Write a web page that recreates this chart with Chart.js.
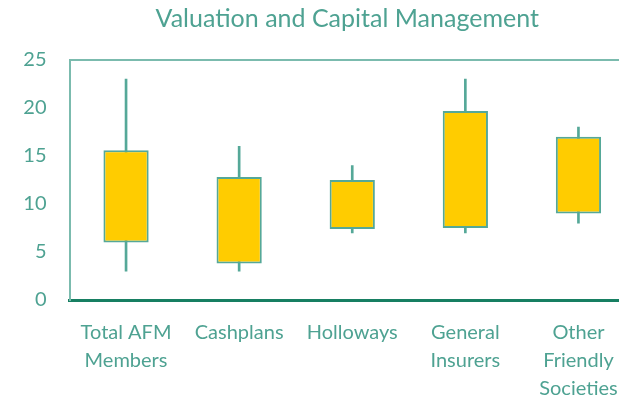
<!DOCTYPE html>
<html>
<head>
<meta charset="utf-8">
<script src="https://cdn.jsdelivr.net/npm/chart.js@4.4.0/dist/chart.umd.min.js"></script>
<style>
  html, body { margin: 0; padding: 0; background: #fff; overflow: hidden; }
  #wrap { width: 660px; height: 400px; position: relative; }
</style>
</head>
<body>
<div id="wrap"><canvas id="c" width="660" height="400"></canvas></div>
<script>
const categories = [["Total AFM", "Members"], "Cashplans", "Holloways", ["General", "Insurers"], ["Other", "Friendly", "Societies"]];
const lowValues   = [3, 3, 7, 7, 8];
const boxBottom   = [6, 3.8, 7.4, 7.5, 9];
const boxTop      = [15.6, 12.8, 12.5, 19.7, 17];
const highValues  = [23, 16, 14, 23, 18];
const yTicks = [0, 5, 10, 15, 20, 25];
const titleText = 'Valuation and Capital Management';

const TEAL = '#55A898';
const TEXT = '#4EA292';

const frame = {
  id: 'frame',
  afterDraw(chart) {
    const a = chart.chartArea, ctx = chart.ctx;
    ctx.save();
    ctx.strokeStyle = '#7BBBAE';
    ctx.lineWidth = 2;
    ctx.beginPath();
    ctx.moveTo(a.left, a.top);
    ctx.lineTo(a.right, a.top);
    ctx.stroke();
    // title
    ctx.fillStyle = TEXT;
    ctx.font = '25px Lato';
    ctx.textAlign = 'center';
    ctx.textBaseline = 'middle';
    ctx.fillText(titleText, (a.left + a.right) / 2 - 5, 19);
    ctx.restore();
  }
};

new Chart(document.getElementById('c'), {
  type: 'bar',
  data: {
    labels: categories,
    datasets: [
      {
        label: 'Box',
        data: boxBottom.map((b, i) => [b, boxTop[i]]),
        backgroundColor: '#FFCC00',
        borderColor: TEAL,
        borderWidth: 2,
        borderSkipped: false,
        barPercentage: 0.4,
        categoryPercentage: 1,
        grouped: false,
        order: 1
      },
      {
        label: 'Range',
        data: lowValues.map((l, i) => [l, highValues[i]]),
        backgroundColor: TEAL,
        borderWidth: 0,
        barThickness: 2,
        grouped: false,
        order: 2
      }
    ]
  },
  options: {
    responsive: false,
    animation: false,
    layout: { padding: { top: 60, right: 25, left: 0, bottom: 0 } },
    plugins: {
      legend: { display: false },
      tooltip: { enabled: false },
      title: { display: false }
    },
    scales: {
      x: {
        grid: { display: false, drawTicks: false },
        border: { display: true, color: '#177F62', width: 3 },
        ticks: {
          color: TEXT,
          font: { family: 'Lato', size: 20, lineHeight: 1.4 },
          padding: 19,
          maxRotation: 0,
          autoSkip: false
        },
        afterFit(scale) { scale.height = 100; }
      },
      y: {
        min: 0, max: 25,
        afterBuildTicks(scale) { scale.ticks = yTicks.map(v => ({ value: v })); },
        grid: { display: false, drawTicks: false },
        border: { display: true, color: '#7BBBAE', width: 2 },
        ticks: {
          color: TEXT,
          font: { family: 'Lato', size: 20 },
          padding: 23
        },
        afterFit(scale) { scale.width = 69.5; }
      }
    }
  },
  plugins: [frame]
});
</script>
</body>
</html>
